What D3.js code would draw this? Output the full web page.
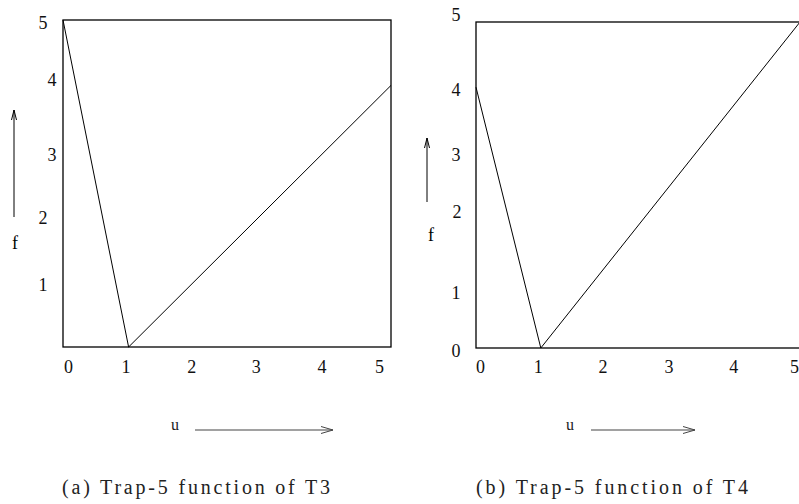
<!DOCTYPE html>
<html><head><meta charset="utf-8">
<script src="https://cdn.jsdelivr.net/npm/d3@7"></script>
<style>
body{margin:0;background:#fff}svg{display:block}
.serif{font-family:"Liberation Serif","Times New Roman",Times,"DejaVu Serif",serif}
</style>
</head><body>
<svg id="c" width="799" height="504"></svg>
<script>
// ---- data ----
const xTicks = [0, 1, 2, 3, 4, 5];
const yTicksA = [1, 2, 3, 4, 5];
const yTicksB = [0, 1, 2, 3, 4, 5];
const uA = [0, 1, 5];
const fA = [5, 0, 4];
const uB = [0, 1, 5];
const fB = [4, 0, 5];
const captionA = "(a) Trap-5 function of T3";
const captionB = "(b) Trap-5 function of T4";

// ---- layout ----
const svg = d3.select("#c");

const panels = [
  {u: uA, f: fA, yTicks: yTicksA, caption: captionA,
   xr: [63, 391], yr: [347, 20],
   xdx: [5, -3, -3, -4, -4, -12],
   ylab: {1: [43, 285], 2: [43, 218], 3: [52, 155], 4: [52, 80], 5: [43, 23]},
   xlabY: 367, upArrow: [14, 217, 110], fPos: [15, 243],
   uPos: [175, 425], uArrow: [195, 333, 430], capX: 62, capW: 268},
  {u: uB, f: fB, yTicks: yTicksB, caption: captionB,
   xr: [476, 800], yr: [348, 22],
   xdx: [4, -3, -3, -2, -2, -6],
   ylab: {0: [456, 351], 1: [456, 293], 2: [457, 212], 3: [456, 155], 4: [456, 90], 5: [456, 15]},
   xlabY: 367, upArrow: [427, 202, 138], fPos: [431, 235],
   uPos: [570, 425], uArrow: [591, 695, 430], capX: 476, capW: 272}
];

const defs = svg.append("defs");
defs.append("marker").attr("id", "hh").attr("viewBox", "0 0 12 8")
  .attr("refX", 12).attr("refY", 4).attr("markerWidth", 12).attr("markerHeight", 8)
  .attr("markerUnits", "userSpaceOnUse").attr("orient", "auto")
  .append("path").attr("d", "M0,0.5 L12,4 L0,7.5").attr("fill", "none")
  .attr("stroke", "#444").attr("stroke-width", 1);
defs.append("marker").attr("id", "vh").attr("viewBox", "0 0 10 6")
  .attr("refX", 10).attr("refY", 3).attr("markerWidth", 10).attr("markerHeight", 6)
  .attr("markerUnits", "userSpaceOnUse").attr("orient", "auto")
  .append("path").attr("d", "M0,0.5 L10,3 L0,5.5").attr("fill", "none")
  .attr("stroke", "#000").attr("stroke-width", 1);

panels.forEach(p => {
  const x = d3.scaleLinear().domain([0, 5]).range(p.xr);
  const y = d3.scaleLinear().domain([0, 5]).range(p.yr);
  const g = svg.append("g");

  // frame
  g.append("rect").attr("x", x(0)).attr("y", y(5))
    .attr("width", x(5) - x(0)).attr("height", y(0) - y(5))
    .attr("fill", "none").attr("stroke", "#000").attr("stroke-width", 1.3);

  // function line
  const pts = p.u.map((d, i) => [d, p.f[i]]);
  g.append("path").datum(pts)
    .attr("d", d3.line().x(d => x(d[0])).y(d => y(d[1])))
    .attr("fill", "none").attr("stroke", "#000").attr("stroke-width", 1);

  // x axis labels
  const xa = g.append("g").attr("transform", `translate(0,${p.xlabY})`)
    .call(d3.axisBottom(x).tickValues(xTicks).tickSize(0).tickFormat(d3.format("d")));
  xa.attr("font-family", null).attr("font-size", null);
  xa.select(".domain").remove();
  xa.selectAll("text").attr("y", 0).attr("dy", "0.35em")
    .attr("dx", (d, i) => p.xdx[i])
    .attr("class", "serif").style("font-size", "18px").attr("fill", "#111");

  // y axis labels
  const ya = g.append("g")
    .call(d3.axisLeft(y).tickValues(p.yTicks).tickSize(0).tickFormat(d3.format("d")));
  ya.attr("font-family", null).attr("font-size", null);
  ya.select(".domain").remove();
  ya.selectAll(".tick").attr("transform", null);
  ya.selectAll("text")
    .attr("x", d => p.ylab[d][0]).attr("y", d => p.ylab[d][1])
    .attr("dy", "0.35em").attr("text-anchor", "middle")
    .attr("class", "serif").style("font-size", "18px").attr("fill", "#111");

  // f arrow
  g.append("line").attr("x1", p.upArrow[0]).attr("x2", p.upArrow[0])
    .attr("y1", p.upArrow[1]).attr("y2", p.upArrow[2])
    .attr("stroke", "#000").attr("stroke-width", 1).attr("marker-end", "url(#vh)");
  g.append("text").attr("x", p.fPos[0]).attr("y", p.fPos[1]).attr("dy", "0.35em")
    .attr("text-anchor", "middle").attr("class", "serif").style("font-size", "18px")
    .text("f");

  // u arrow
  g.append("text").attr("x", p.uPos[0]).attr("y", p.uPos[1]).attr("dy", "0.3em")
    .attr("text-anchor", "middle").attr("class", "serif").style("font-size", "16px")
    .attr("fill", "#222").text("u");
  g.append("line").attr("x1", p.uArrow[0]).attr("x2", p.uArrow[1])
    .attr("y1", p.uArrow[2]).attr("y2", p.uArrow[2])
    .attr("stroke", "#444").attr("stroke-width", 1.2).attr("marker-end", "url(#hh)");

  // caption
  g.append("text").attr("x", p.capX).attr("y", 494)
    .attr("class", "serif").style("font-size", "20px").attr("fill", "#222")
    .attr("textLength", p.capW).attr("lengthAdjust", "spacing")
    .text(p.caption);
});
</script>
</body></html>
